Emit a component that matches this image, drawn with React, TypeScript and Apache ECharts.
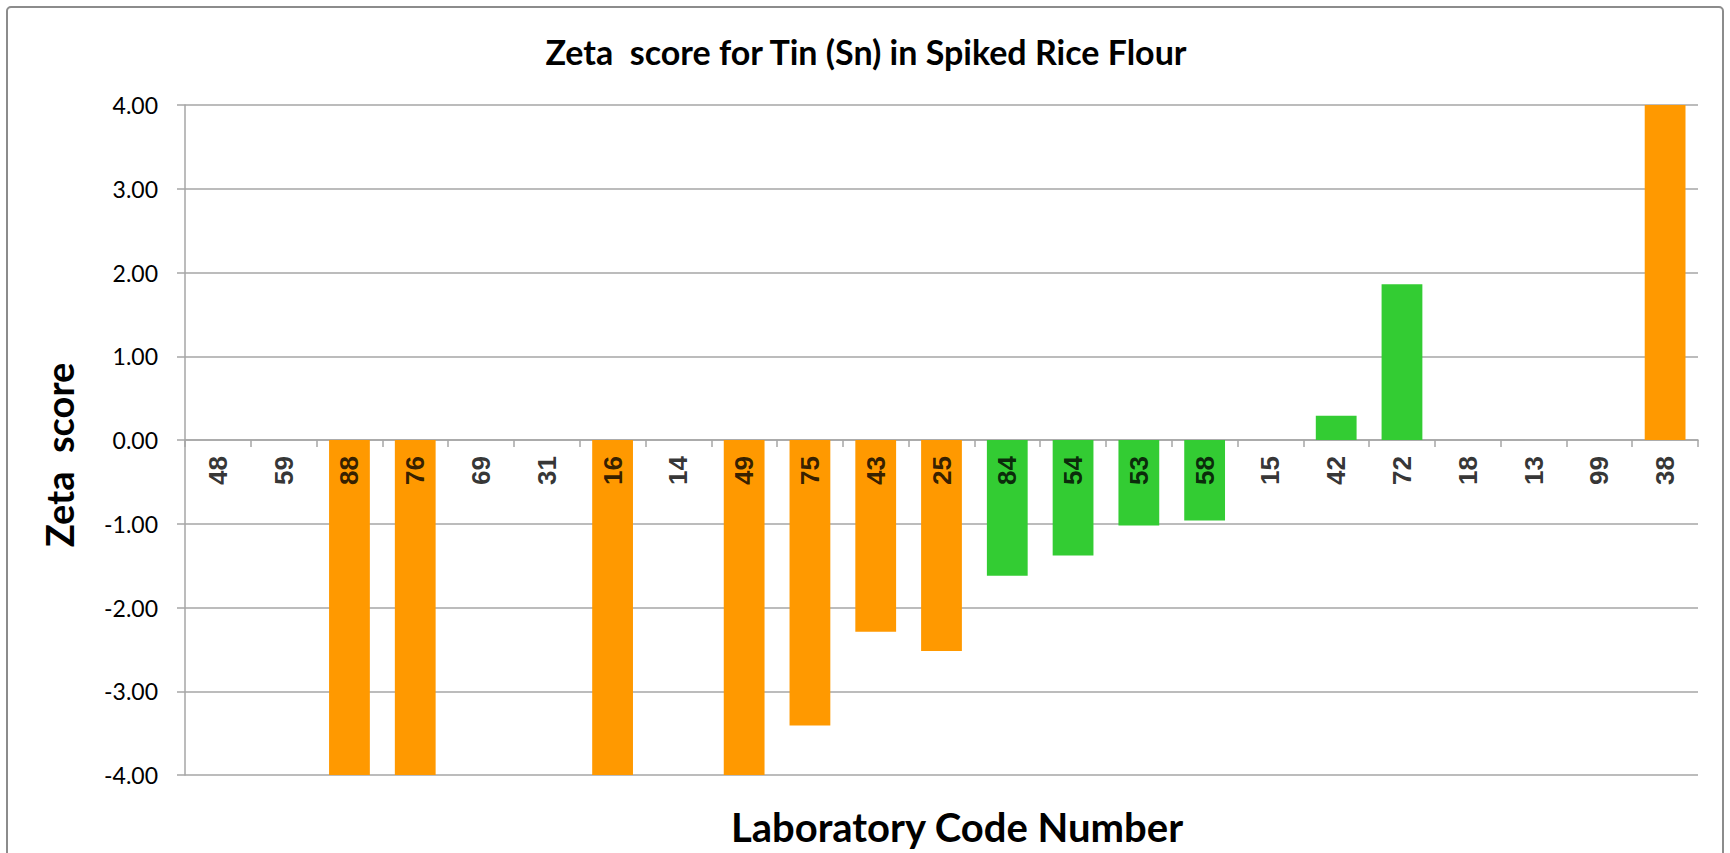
import { useEffect, useRef } from "react";
import * as echarts from "echarts";

const categories = ["48", "59", "88", "76", "69", "31", "16", "14", "49", "75", "43", "25", "84", "54", "53", "58", "15", "42", "72", "18", "13", "99", "38"];
const zetaScores = [0, 0, -4, -4, 0, 0, -4, 0, -4, -3.41, -2.29, -2.52, -1.62, -1.38, -1.02, -0.96, 0, 0.29, 1.86, 0, 0, 0, 4];
const yMin = -4;
const yMax = 4;
const yStep = 1;
const titleText = "Zeta  score for Tin (Sn) in Spiked Rice Flour";
const xName = "Laboratory Code Number";
const yName = "Zeta  score";

const ORANGE = "#FF9900";
const GREEN = "#33CC33";
const GRID = "#A6A6A6";

export default function App() {
  const ref = useRef<HTMLDivElement>(null);
  useEffect(() => {
    document.body.style.margin = "0";
    const chart = echarts.init(ref.current!, undefined, { renderer: "svg" });
    chart.setOption({
      animation: false,
      backgroundColor: "#ffffff",
      grid: { left: 185, right: 32, top: 105, bottom: 78, containLabel: false },
      xAxis: {
        type: "category",
        data: categories,
        axisLine: { onZero: true, lineStyle: { color: GRID, width: 1.5 } },
        axisTick: { show: true, length: 7, lineStyle: { color: GRID, width: 1.5 } },
        axisLabel: { show: false },
        splitLine: { show: false },
      },
      yAxis: {
        type: "value",
        min: yMin,
        max: yMax,
        interval: yStep,
        axisLine: { show: true, lineStyle: { color: GRID, width: 1.5 } },
        axisTick: { show: true, length: 8, lineStyle: { color: GRID, width: 1.5 } },
        axisLabel: {
          margin: 27,
          color: "#000",
          fontFamily: "Lato",
          fontSize: 23,
          formatter: (v: number) => v.toFixed(2),
        },
        splitLine: { show: true, lineStyle: { color: GRID, width: 1.5 } },
      },
      series: [
        {
          type: "bar",
          data: zetaScores.map((v) => ({
            value: v,
            itemStyle: { color: Math.abs(v) > 2 ? ORANGE : GREEN },
          })),
          barCategoryGap: "38%",
          z: 2,
        },
        {
          type: "scatter",
          data: categories.map(() => 0),
          symbolSize: 0,
          silent: true,
          z: 5,
          label: {
            show: true,
            formatter: (p: any) => p.name,
            position: [0, 16],
            rotate: 90,
            align: "right",
            verticalAlign: "middle",
            color: "#000",
            fontFamily: "Liberation Sans",
            fontWeight: "bold",
            fontSize: 26,
          },
        },
      ],
      graphic: [
        {
          type: "rect",
          shape: { x: 7, y: 7, width: 1716, height: 880, r: 4 },
          style: { fill: "none", stroke: "#8C8C8C", lineWidth: 2 },
          silent: true,
          z: 100,
        },
        {
          type: "text",
          x: 866,
          y: 51,
          style: {
            text: titleText,
            fontFamily: "Lato",
            fontWeight: "bold",
            fontSize: 34,
            fill: "#000",
            align: "center",
            verticalAlign: "middle",
          },
        },
        {
          type: "text",
          x: 957,
          y: 827,
          style: {
            text: xName,
            fontFamily: "Lato",
            fontWeight: "bold",
            fontSize: 40,
            fill: "#000",
            align: "center",
            verticalAlign: "middle",
          },
        },
        {
          type: "text",
          x: 59,
          y: 455,
          rotation: Math.PI / 2,
          style: {
            text: yName,
            fontFamily: "Lato",
            fontWeight: "bold",
            fontSize: 38,
            fill: "#000",
            align: "center",
            verticalAlign: "middle",
          },
        },
      ],
    });
    return () => chart.dispose();
  }, []);
  return <div ref={ref} style={{ width: 1730, height: 853 }} />;
}
